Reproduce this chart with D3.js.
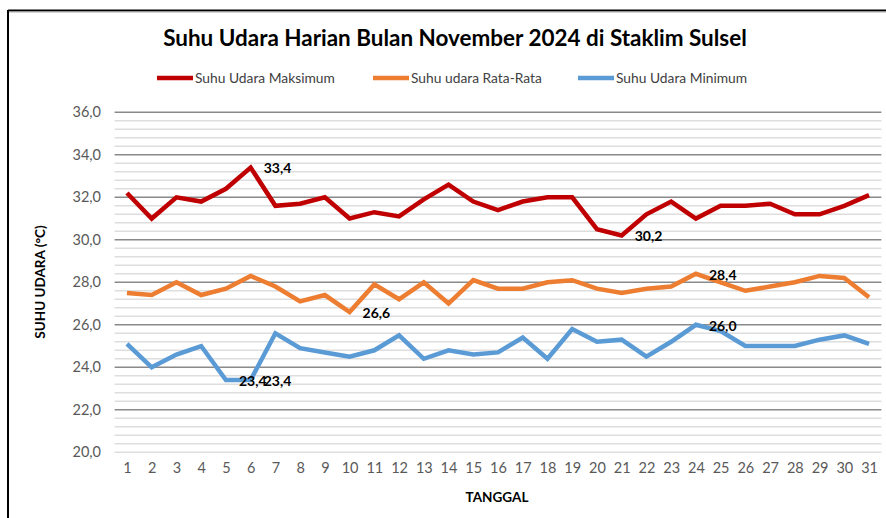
<!DOCTYPE html>
<html>
<head>
<meta charset="utf-8">
<script src="https://cdn.jsdelivr.net/npm/d3@7/dist/d3.min.js"></script>
<style>
  html, body { margin: 0; padding: 0; background: #fff; }
  svg { display: block; font-family: Lato, "Open Sans", sans-serif; }
</style>
</head>
<body>
<svg id="chart" width="886" height="518"></svg>
<script>
const title = "Suhu Udara Harian Bulan November 2024 di Staklim Sulsel";
const days = d3.range(1, 32);
const seriesNames = ["Suhu Udara Maksimum", "Suhu udara Rata-Rata", "Suhu Udara Minimum"];
const maxTemp = [32.2, 31.0, 32.0, 31.8, 32.4, 33.4, 31.6, 31.7, 32.0, 31.0,
                 31.3, 31.1, 31.9, 32.6, 31.8, 31.4, 31.8, 32.0, 32.0, 30.5,
                 30.2, 31.2, 31.8, 31.0, 31.6, 31.6, 31.7, 31.2, 31.2, 31.6, 32.1];
const meanTemp = [27.5, 27.4, 28.0, 27.4, 27.7, 28.3, 27.8, 27.1, 27.4, 26.6,
                  27.9, 27.2, 28.0, 27.0, 28.1, 27.7, 27.7, 28.0, 28.1, 27.7,
                  27.5, 27.7, 27.8, 28.4, 28.0, 27.6, 27.8, 28.0, 28.3, 28.2, 27.3];
const minTemp = [25.1, 24.0, 24.6, 25.0, 23.4, 23.4, 25.6, 24.9, 24.7, 24.5,
                 24.8, 25.5, 24.4, 24.8, 24.6, 24.7, 25.4, 24.4, 25.8, 25.2,
                 25.3, 24.5, 25.2, 26.0, 25.7, 25.0, 25.0, 25.0, 25.3, 25.5, 25.1];
const yTicks = [20, 22, 24, 26, 28, 30, 32, 34, 36];
// labelled points: [series index, day]
const labelledPoints = [[0, 6], [0, 21], [1, 10], [1, 24], [2, 5], [2, 6], [2, 24]];
const yTitle = "SUHU UDARA  (°C)";
const xTitle = "TANGGAL";

const colors = ["#C00000", "#ED7D31", "#5B9BD5"];
const seriesValues = [maxTemp, meanTemp, minTemp];

const svg = d3.select("#chart");

// frame
svg.append("line").attr("x1", 8).attr("x2", 886).attr("y1", 10.5).attr("y2", 10.5)
  .attr("stroke", "#000").attr("stroke-width", 2);
svg.append("line").attr("x1", 8).attr("x2", 886).attr("y1", 12).attr("y2", 12)
  .attr("stroke", "#aaa").attr("stroke-width", 1);
svg.append("line").attr("x1", 8).attr("x2", 8).attr("y1", 10).attr("y2", 518)
  .attr("stroke", "#000").attr("stroke-width", 2);

const x = d3.scalePoint().domain(days).range([114.6, 881.4]).padding(0.5);
const y = d3.scaleLinear().domain([20, 36]).range([452.3, 112.3]);

// minor gridlines
const minor = d3.range(20, 36.001, 0.4).filter(v => Math.abs(v / 2 - Math.round(v / 2)) > 0.01 || Math.abs(v - 20) < 0.01);
svg.append("g").selectAll("line").data(minor).join("line")
  .attr("x1", 114.6).attr("x2", 881.4)
  .attr("y1", d => y(d)).attr("y2", d => y(d))
  .attr("stroke", "#dedede").attr("stroke-width", 1.5);
// major gridlines
svg.append("g").selectAll("line").data(yTicks.filter(v => v > 20)).join("line")
  .attr("x1", 114.6).attr("x2", 881.4)
  .attr("y1", d => y(d)).attr("y2", d => y(d))
  .attr("stroke", "#8a8a8a").attr("stroke-width", 1.5);

// y axis labels
const yAxis = d3.axisLeft(y).tickValues(yTicks).tickSize(0).tickPadding(0)
  .tickFormat(d => d3.format(".1f")(d).replace(".", ","));
const gy = svg.append("g").attr("transform", "translate(101,0)").call(yAxis);
gy.select(".domain").remove();
gy.selectAll("text").attr("font-size", 14.5).attr("fill", "#595959")
  .attr("font-family", "Lato, sans-serif");

// x axis labels
const xAxis = d3.axisBottom(x).tickSize(0).tickPadding(0);
const gx = svg.append("g").attr("transform", "translate(0,463)").call(xAxis);
gx.select(".domain").remove();
gx.selectAll("text").attr("font-size", 14.5).attr("fill", "#595959")
  .attr("font-family", "Lato, sans-serif");

// lines
const line = d3.line().x((d, i) => x(days[i])).y(d => y(d));
seriesValues.forEach((vals, si) => {
  svg.append("path").datum(vals)
    .attr("d", line)
    .attr("fill", "none")
    .attr("stroke", colors[si])
    .attr("stroke-width", 4.5)
    .attr("stroke-linejoin", "miter")
    .attr("stroke-linecap", "butt");
});

// data labels
svg.append("g").selectAll("text").data(labelledPoints).join("text")
  .attr("x", d => x(d[1]) + 13)
  .attr("y", d => y(seriesValues[d[0]][d[1] - 1]) + 1)
  .attr("dy", "0.35em")
  .attr("font-size", 14).attr("font-weight", "bold").attr("fill", "#000")
  .text(d => d3.format(".1f")(seriesValues[d[0]][d[1] - 1]).replace(".", ","));

// title
const t = svg.append("text").attr("x", 455).attr("y", 38).attr("dy", "0.35em")
  .attr("text-anchor", "middle").attr("font-size", 20).attr("font-weight", "bold")
  .attr("fill", "#000").text(title);
const tw = t.node().getComputedTextLength();
t.attr("font-size", 20 * 584 / tw);

// legend
const legendX = [157, 373, 578];
const lg = svg.append("g").selectAll("g").data(seriesNames).join("g")
  .attr("transform", (d, i) => `translate(${legendX[i]},78)`);
lg.append("line").attr("x1", 0).attr("x2", 36).attr("y1", 0).attr("y2", 0)
  .attr("stroke", (d, i) => colors[i]).attr("stroke-width", 4.5);
lg.append("text").attr("x", 38).attr("dy", "0.35em").attr("font-size", 13.8)
  .attr("fill", "#404040").text(d => d);

// axis titles
svg.append("text").attr("transform", "translate(40,282) rotate(-90)")
  .attr("text-anchor", "middle").attr("dy", "0.35em")
  .attr("font-size", 13.5).attr("font-weight", "bold").attr("fill", "#000").text(yTitle);
svg.append("text").attr("x", 497).attr("y", 497).attr("dy", "0.35em")
  .attr("text-anchor", "middle").attr("font-size", 13.5).attr("font-weight", "bold")
  .attr("fill", "#000").text(xTitle);
</script>
</body>
</html>
